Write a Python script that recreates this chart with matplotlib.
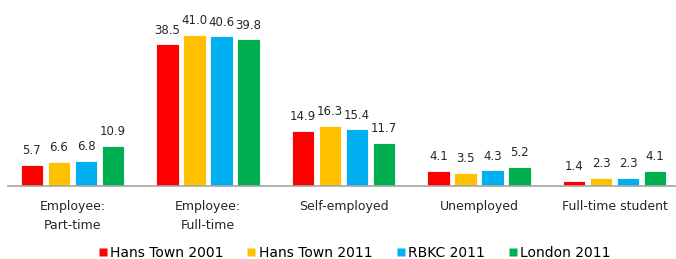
import matplotlib
matplotlib.use("Agg")
import matplotlib.pyplot as plt
from matplotlib.lines import Line2D
import numpy as np

categories = ["Employee:\nPart-time", "Employee:\nFull-time", "Self-employed",
              "Unemployed", "Full-time student"]
series = ["Hans Town 2001", "Hans Town 2011", "RBKC 2011", "London 2011"]
hans_2001 = [5.7, 38.5, 14.9, 4.1, 1.4]
hans_2011 = [6.6, 41.0, 16.3, 3.5, 2.3]
rbkc_2011 = [6.8, 40.6, 15.4, 4.3, 2.3]
london_2011 = [10.9, 39.8, 11.7, 5.2, 4.1]
colors = ["#FF0000", "#FFC000", "#00B0F0", "#00B050"]

plt.rcParams.update({"font.family": "DejaVu Sans"})
W, H = 676, 259
fig = plt.figure(figsize=(W / 100, H / 100), dpi=100)
ax = fig.add_axes([8 / W, (H - 186) / H, 668 / W, 166 / H])

x = np.arange(len(categories))
step, width = 0.2, 0.165
for i, (vals, c) in enumerate(zip([hans_2001, hans_2011, rbkc_2011, london_2011], colors)):
    pos = x + (i - 1.5) * step
    ax.bar(pos, vals, width=width, color=c, edgecolor="white", linewidth=0.6)
    for p, v in zip(pos, vals):
        ax.annotate(f"{v:.1f}", (p, v), xytext=(0, 5.5), textcoords="offset points",
                    ha="center", va="bottom", fontsize=8.5, color="#262626")

x0 = -(72.5 - 8) / 135.5
ax.set_xlim(x0, x0 + 668 / 135.5)
ax.set_ylim(0, 166 / 3.683)
ax.set_xticks(x)
ax.set_xticklabels(categories, fontsize=9, color="#262626", linespacing=1.6)
ax.tick_params(axis="x", length=0, pad=10)
ax.set_yticks([])
for s in ["top", "right", "left"]:
    ax.spines[s].set_visible(False)
ax.spines["bottom"].set_color("#A6A6A6")
ax.spines["bottom"].set_linewidth(1.2)

handles = [Line2D([], [], marker="s", linestyle="none", markersize=6,
                  markerfacecolor=c, markeredgecolor="none") for c in colors]
fig.legend(handles, series, loc="center", bbox_to_anchor=(355 / W, 1 - 253 / H), ncol=4,
           frameon=False, fontsize=10, handlelength=0.5, handletextpad=0.3,
           columnspacing=1.75, borderaxespad=0)

fig.savefig("out.png", dpi=100, facecolor="white")
